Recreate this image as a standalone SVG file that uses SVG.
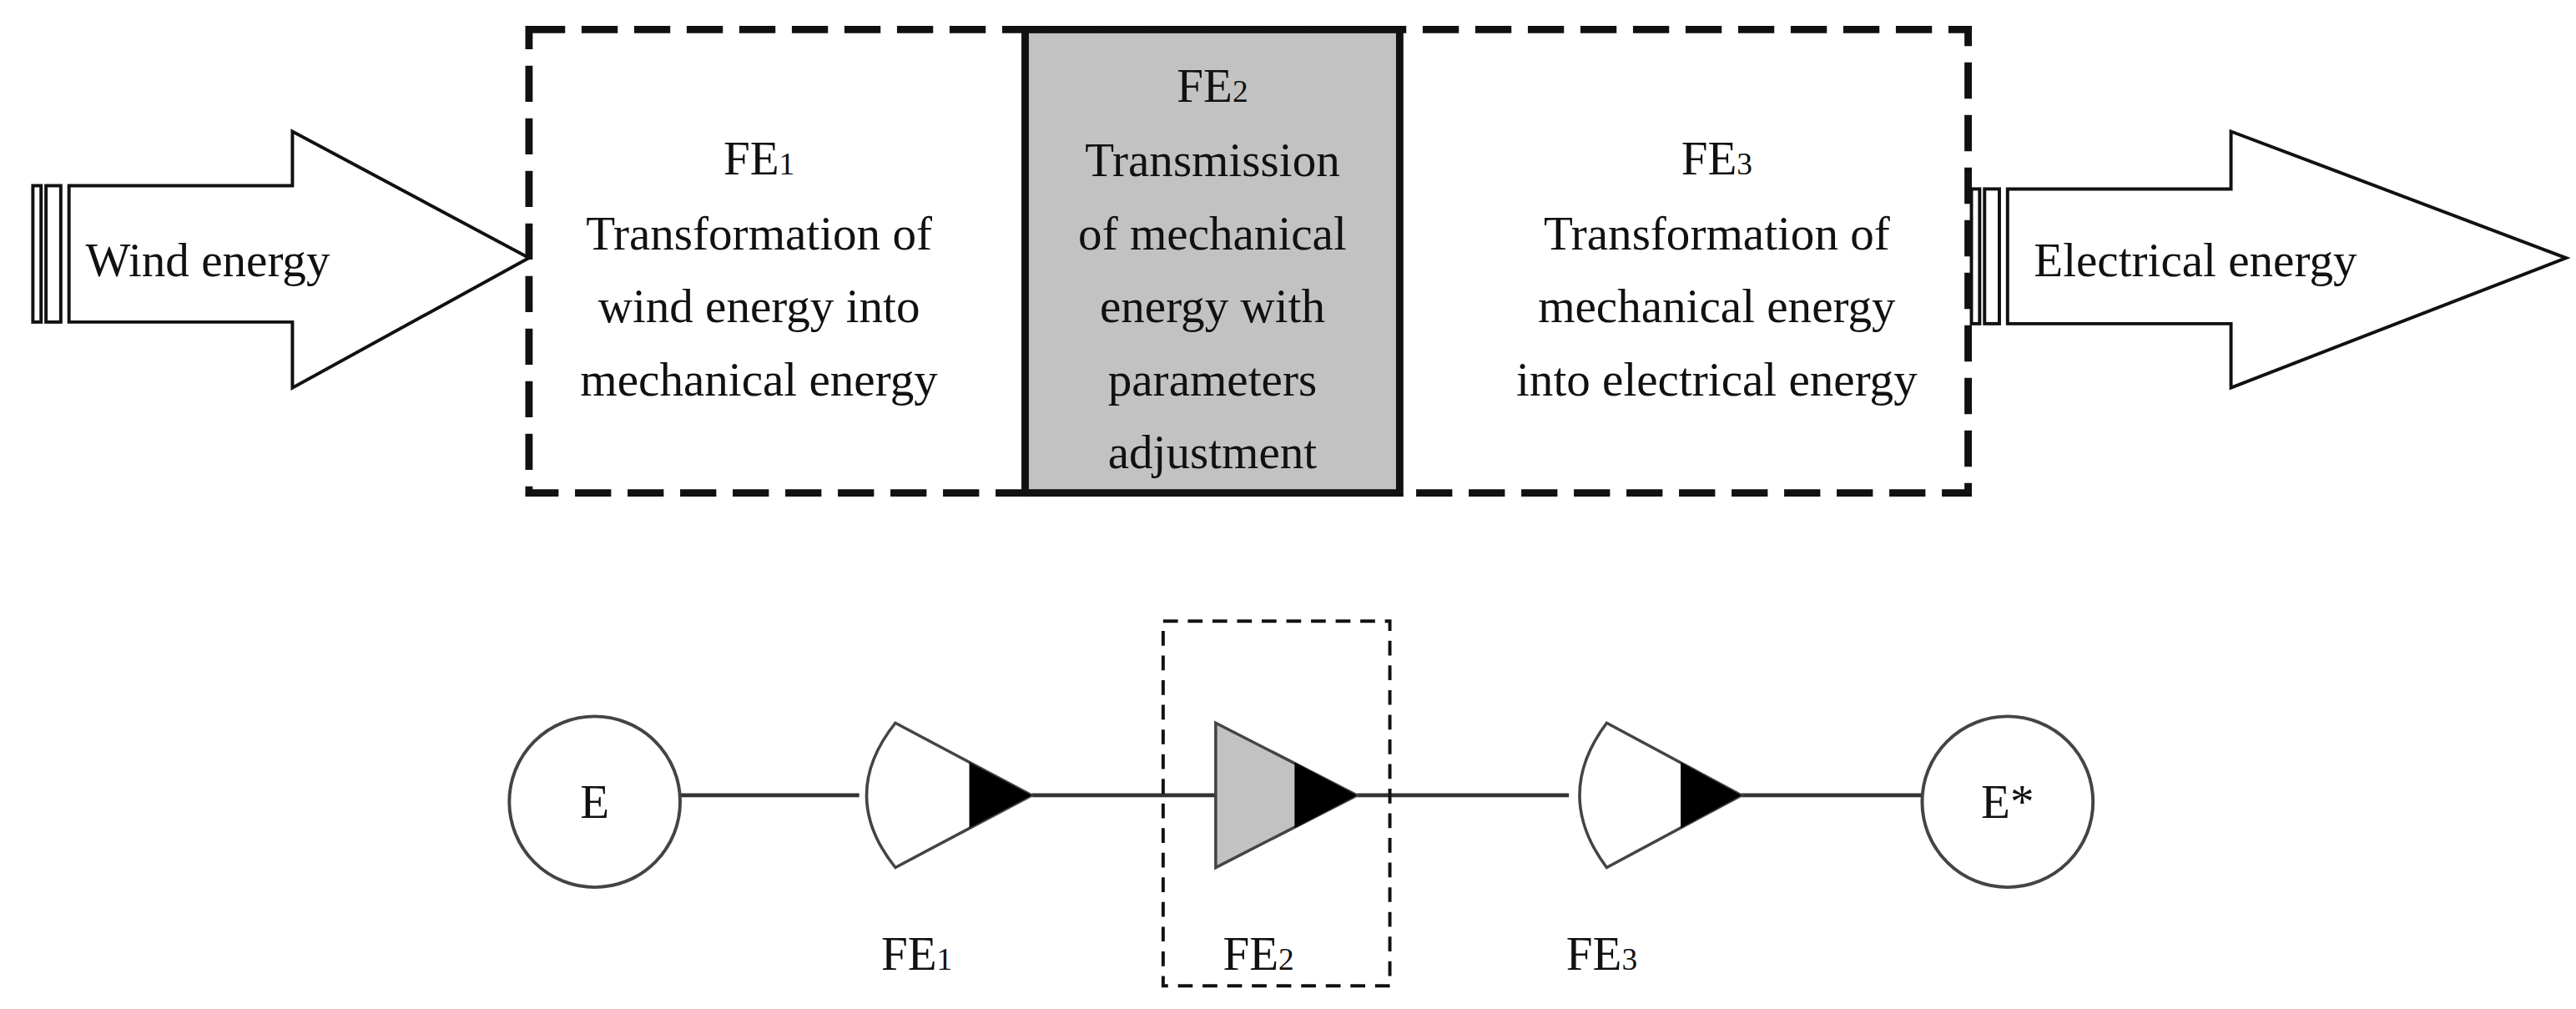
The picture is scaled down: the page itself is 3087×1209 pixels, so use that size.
<svg xmlns="http://www.w3.org/2000/svg" width="3087" height="1209" viewBox="0 0 3087 1209">
<style>
text{font-family:"Liberation Serif","DejaVu Serif",serif;font-size:29px;fill:#111;text-anchor:middle}
.s{font-size:19px}
.dash{fill:none;stroke:#111;stroke-width:4.5;stroke-dasharray:22 10}
.thin{fill:#fff;stroke:#111;stroke-width:2}
.ln{stroke:#333;stroke-width:2.5;fill:none}
.sym{stroke:#444;stroke-width:1.8}
</style>
<rect width="3087" height="1209" fill="#fff"/>
<g transform="scale(1.96875)">
<g id="wind">
<rect class="thin" x="20" y="113" width="5" height="83"/>
<rect class="thin" x="28" y="113" width="9" height="83"/>
<path class="thin" d="M42 113 H178 V80 L322 157 L178 236 V196 H42 Z"/>
<text x="52" y="168" style="text-anchor:start">Wind energy</text>
</g>
<g id="system">
<rect class="dash" x="322" y="18" width="876" height="282"/>
</g>
<g id="fe1">
<text x="462" y="106">FE<tspan class="s">1</tspan></text>
<text x="462" y="152">Transformation of</text>
<text x="462" y="196">wind energy into</text>
<text x="462" y="241">mechanical energy</text>
</g>
<g id="fe2">
<rect x="624" y="18" width="228" height="282" fill="#c2c2c2" stroke="#111" stroke-width="4.5"/>
<text x="738" y="62">FE<tspan class="s">2</tspan></text>
<text x="738" y="107">Transmission</text>
<text x="738" y="152">of mechanical</text>
<text x="738" y="196">energy with</text>
<text x="738" y="241">parameters</text>
<text x="738" y="285">adjustment</text>
</g>
<g id="fe3">
<text x="1045" y="106">FE<tspan class="s">3</tspan></text>
<text x="1045" y="152">Transformation of</text>
<text x="1045" y="196">mechanical energy</text>
<text x="1045" y="241">into electrical energy</text>
</g>
<g id="electric">
<rect class="thin" x="1200" y="115" width="5" height="82"/>
<rect class="thin" x="1208" y="115" width="9" height="82"/>
<path class="thin" d="M1222 115 H1358 V80 L1562 157 L1358 236 V197 H1222 Z"/>
<text x="1238" y="168" style="text-anchor:start">Electrical energy</text>
</g>
<g id="connectors">
<line class="ln" x1="414" y1="484" x2="523" y2="484"/>
<line class="ln" x1="628" y1="484" x2="740" y2="484"/>
<line class="ln" x1="826" y1="484" x2="955" y2="484"/>
<line class="ln" x1="1060" y1="484" x2="1170" y2="484"/>
</g>
<g id="E">
<circle cx="362" cy="488" r="52" fill="#fff" stroke="#444" stroke-width="2"/>
<text x="362" y="498">E</text>
</g>
<g id="FE1b">
<path class="sym" fill="#fff" d="M545 440 L628 484 L545 528 Q510 484 545 440 Z"/>
<path d="M590 464 L628 484 L590 504 Z" fill="#000"/>
<text x="558" y="590">FE<tspan class="s">1</tspan></text>
</g>
<g id="FE2b">
<rect class="dash" x="708" y="378" width="138" height="222" style="stroke-width:2;stroke-dasharray:9 6"/>
<path class="sym" fill="#c2c2c2" d="M740 440 L826 484 L740 528 Z"/>
<path d="M788 464 L826 484 L788 504 Z" fill="#000"/>
<text x="766" y="590">FE<tspan class="s">2</tspan></text>
</g>
<g id="FE3b">
<path class="sym" fill="#fff" d="M978 440 L1060 484 L978 528 Q945 484 978 440 Z"/>
<path d="M1023 464 L1060 484 L1023 504 Z" fill="#000"/>
<text x="975" y="590">FE<tspan class="s">3</tspan></text>
</g>
<g id="Estar">
<circle cx="1222" cy="488" r="52" fill="#fff" stroke="#444" stroke-width="2"/>
<text x="1222" y="498">E*</text>
</g>
</g>
</svg>
